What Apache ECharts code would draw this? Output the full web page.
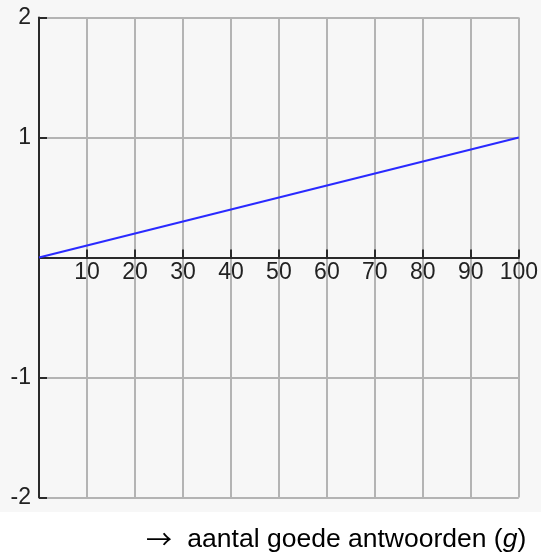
<!DOCTYPE html>
<html>
<head>
<meta charset="utf-8">
<script src="https://cdn.jsdelivr.net/npm/echarts@6/dist/echarts.min.js"></script>
<style>
html,body{margin:0;padding:0;background:#fff;}
#main{width:541px;height:553px;}
</style>
</head>
<body>
<div id="main"></div>
<script>
// Data
var lineX = [0, 100];
var lineY = [0, 1];
var xTickLabels = [10, 20, 30, 40, 50, 60, 70, 80, 90, 100];
var yTickLabels = [-2, -1, 1, 2];
var xLabelTitle = '{a|→} aantal goede antwoorden ({i|g})';

var chart = echarts.init(document.getElementById('main'));
var pts = lineX.map(function (x, i) { return [x, lineY[i]]; });
var axisColor = '#2a2a2a';
var gridColor = '#b4b4b4';
var fontFam = 'Arial, "Liberation Sans", sans-serif';

chart.setOption({
  backgroundColor: '#ffffff',
  animation: false,
  graphic: [
    { type: 'rect', left: 0, top: 0, z: -10, shape: { width: 541, height: 512 }, style: { fill: '#f7f7f7' } }
  ],
  title: {
    text: xLabelTitle,
    left: 141,
    top: 521,
    textStyle: {
      fontFamily: fontFam, fontSize: 26.5, fontWeight: 'normal', color: '#000',
      rich: {
        a: { fontFamily: '"Noto Sans CJK SC"', fontSize: 26, color: '#000', padding: [0, 8, 0, 0] },
        i: { fontFamily: fontFam, fontSize: 26.5, fontStyle: 'italic', color: '#000' }
      }
    }
  },
  grid: { left: 39, top: 17.5, width: 480, height: 480, containLabel: false },
  xAxis: {
    type: 'value', min: 0, max: 100, interval: 10,
    position: 'bottom', offset: -240,
    axisLine: { onZero: false, lineStyle: { color: axisColor, width: 2 } },
    axisTick: { show: true, inside: true, length: 8, lineStyle: { color: axisColor, width: 2 } },
    axisLabel: {
      margin: 4, color: '#222', fontFamily: fontFam, fontSize: 23,
      formatter: function (v) { return xTickLabels.indexOf(v) >= 0 ? String(v) : ''; }
    },
    splitLine: { show: true, lineStyle: { color: gridColor, width: 2 } }
  },
  yAxis: {
    type: 'value', min: -2, max: 2, interval: 1,
    axisLine: { onZero: false, lineStyle: { color: axisColor, width: 2 } },
    axisTick: { show: true, inside: true, length: 8, lineStyle: { color: axisColor, width: 2 } },
    axisLabel: {
      margin: 8, color: '#222', fontFamily: fontFam, fontSize: 23,
      formatter: function (v) { return yTickLabels.indexOf(v) >= 0 ? String(v) : ''; }
    },
    splitLine: { show: true, lineStyle: { color: gridColor, width: 2 } }
  },
  series: [{
    type: 'line', data: pts, showSymbol: false, symbol: 'none',
    lineStyle: { color: '#2a2aff', width: 2 }, z: 5
  }]
});
</script>
</body>
</html>
